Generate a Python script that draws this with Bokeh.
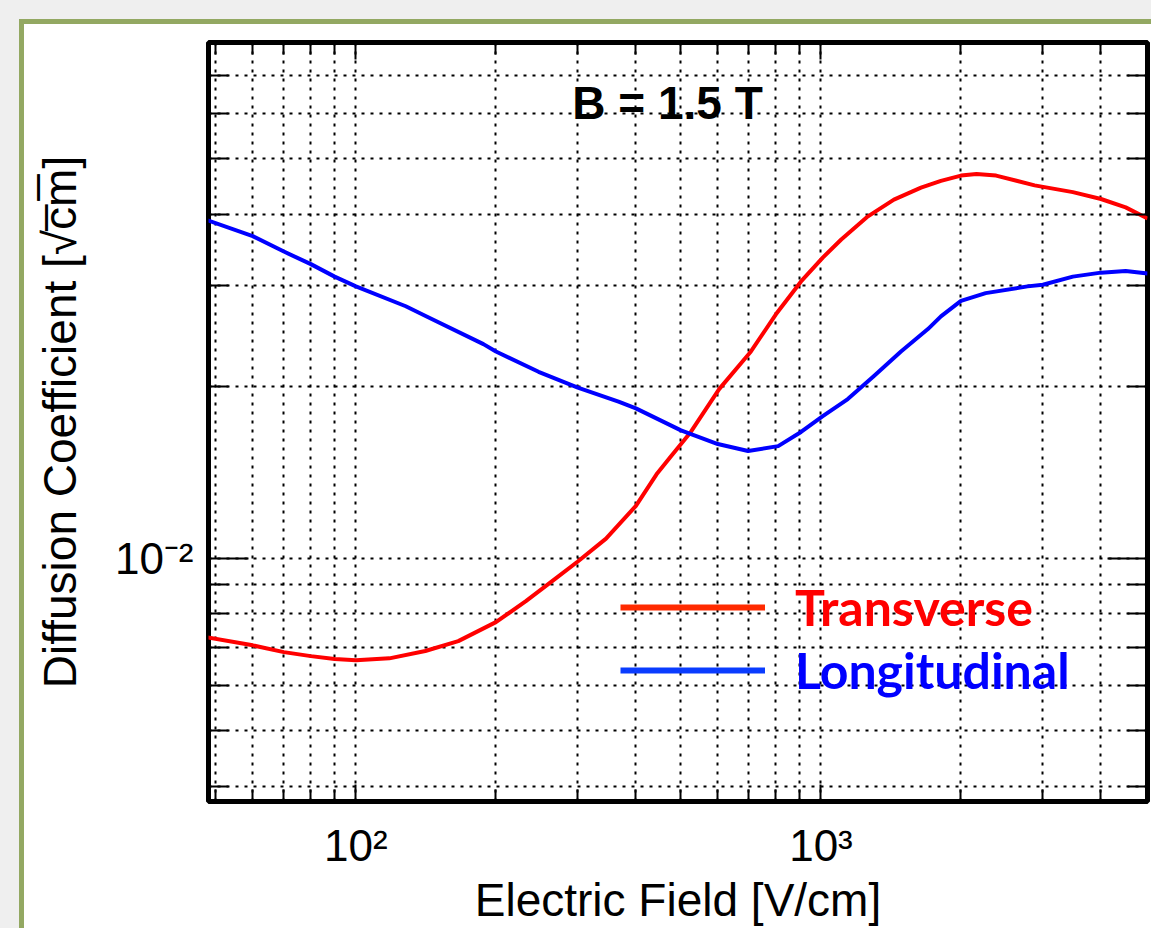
from bokeh.plotting import figure
from bokeh.models import (LogAxis, FixedTicker, Label, Legend, LegendItem,
                          CustomJSTickFormatter)
from bokeh.layouts import column
from bokeh.embed import file_html
from bokeh.resources import INLINE

# ---- data ----
field_trans = [48, 60, 70, 80, 90, 100, 118, 141, 166, 200, 232, 269, 300, 345,
               400, 443, 475, 525, 604, 707, 800, 906, 1009, 1104, 1262, 1435,
               1641, 1811, 2000, 2160, 2380, 2880, 3480, 4000, 4520, 5040]
diff_trans = [0.00728, 0.00705, 0.00686, 0.00675, 0.00667, 0.00664, 0.00669,
              0.00689, 0.00717, 0.00774, 0.00842, 0.00923, 0.00988, 0.01083,
              0.01236, 0.01403, 0.01506, 0.01664, 0.01977, 0.02301, 0.02672,
              0.03050, 0.03357, 0.03608, 0.03964, 0.04240, 0.04449, 0.04571,
              0.0467, 0.0470, 0.0467, 0.0449, 0.0437, 0.0425, 0.0411, 0.0393]

field_long = [48, 60, 70, 80, 90, 100, 128, 143, 188, 200, 247, 300, 367, 400,
              500, 600, 697, 809, 906, 1009, 1142, 1300, 1486, 1698, 1811, 2000,
              2260, 2780, 3000, 3480, 4000, 4520, 5040]
diff_long = [0.0390, 0.0366, 0.0344, 0.0327, 0.0311, 0.0299, 0.0276, 0.0264,
             0.0237, 0.0230, 0.0212, 0.0199, 0.0188, 0.0183, 0.01675, 0.01585,
             0.01541, 0.01572, 0.01664, 0.01774, 0.0190, 0.02084, 0.0230,
             0.02518, 0.0265, 0.0282, 0.0291, 0.0299, 0.0301, 0.0311, 0.0316,
             0.0318, 0.0315]

x_major = [100, 1000]
x_major_labels = ["10\u00b2", "10\u00b3"]
x_minor = [50, 60, 70, 80, 90, 200, 300, 400, 500, 600, 700, 800, 900,
           2000, 3000, 4000]
y_major = [0.01]
y_major_labels = ["10\u207b\u00b2"]
y_minor = [0.004, 0.005, 0.006, 0.007, 0.008, 0.009,
           0.02, 0.03, 0.04, 0.05, 0.06, 0.07]

title_text = "B = 1.5 T"
x_title = "Electric Field [V/cm]"
y_title = "Diffusion Coefficient [\u221ac\u0305m\u0305]"
label_trans = "Transverse"
label_long = "Longitudinal"

FONT = "Liberation Sans"

p = figure(width=1127, height=904, x_axis_type="log", y_axis_type="log",
           x_range=(48.2, 5036), y_range=(0.00376, 0.0798),
           output_backend="svg", toolbar_location=None,
           min_border_left=184, min_border_right=4,
           min_border_top=18, min_border_bottom=124)
p.background_fill_color = "white"
p.border_fill_color = "white"
p.outline_line_color = "black"
p.outline_line_width = 5

blank = CustomJSTickFormatter(code="return ''")


def style_axis(ax, major, minor, tin_major, tin_minor):
    ax.ticker = FixedTicker(ticks=major, minor_ticks=minor)
    ax.axis_line_color = None
    ax.major_tick_in = tin_major
    ax.major_tick_out = 0
    ax.minor_tick_in = tin_minor
    ax.minor_tick_out = 0
    ax.major_tick_line_color = "black"
    ax.minor_tick_line_color = "black"
    ax.major_tick_line_width = 2
    ax.minor_tick_line_width = 2
    ax.major_label_text_font = FONT
    ax.major_label_text_color = "black"
    ax.axis_label_text_font = FONT
    ax.axis_label_text_font_style = "normal"
    ax.axis_label_text_color = "black"


xb = p.xaxis[0]
style_axis(xb, x_major, x_minor, 17, 12)
xb.major_label_overrides = dict(zip(x_major, x_major_labels))
xb.major_label_text_font_size = "44px"
xb.major_label_standoff = 19
xb.axis_label = x_title
xb.axis_label_text_font_size = "46px"
xb.axis_label_standoff = 1

yl = p.yaxis[0]
style_axis(yl, y_major, y_minor, 40, 20)
yl.major_label_overrides = dict(zip(y_major, y_major_labels))
yl.major_label_text_font_size = "44px"
yl.major_label_standoff = 15
yl.axis_label = y_title
yl.axis_label_text_font_size = "46px"
yl.axis_label_standoff = 26

xt = LogAxis()
style_axis(xt, x_major, x_minor, 17, 12)
xt.formatter = blank
xt.major_label_text_font_size = "1px"
xt.major_label_standoff = 0
p.add_layout(xt, "above")

yr = LogAxis()
style_axis(yr, y_major, y_minor, 40, 20)
yr.formatter = blank
yr.major_label_text_font_size = "1px"
yr.major_label_standoff = 0
p.add_layout(yr, "right")

for g in (p.xgrid[0], p.ygrid[0]):
    g.grid_line_color = "black"
    g.grid_line_width = 2
    g.grid_line_dash = "3 6"
    g.grid_line_alpha = 1.0
p.xgrid[0].ticker = FixedTicker(ticks=x_major + x_minor)
p.ygrid[0].ticker = FixedTicker(ticks=y_major + y_minor)

p.line(field_trans, diff_trans, line_color="#ff0000", line_width=4,
       line_join="round")
p.line(field_long, diff_long, line_color="#0000ff", line_width=4,
       line_join="round")

# hidden renderers that only provide the legend swatches
r_key_t = p.line(field_trans, diff_trans, line_color="#ff2a00", line_width=6,
                 visible=False)
r_key_l = p.line(field_long, diff_long, line_color="#0a3cff", line_width=6,
                 visible=False)


def make_legend(label, renderer, color, loc):
    lg = Legend(items=[LegendItem(label=label, renderers=[renderer])],
                location=loc, orientation="vertical",
                glyph_width=145, glyph_height=20, label_standoff=30,
                padding=0, margin=0, spacing=0,
                border_line_color=None, background_fill_alpha=0,
                inactive_fill_alpha=0,
                label_text_font="Lato", label_text_font_style="bold",
                label_text_font_size="50px", label_text_color=color)
    p.add_layout(lg, "center")


make_legend(label_trans, r_key_t, "#ff0000", (412, 164))
make_legend(label_long, r_key_l, "#0000ff", (412, 101))

p.add_layout(Label(x=459, y=699, x_units="screen", y_units="screen",
                   text=title_text, text_align="center",
                   text_baseline="alphabetic", text_font=FONT,
                   text_font_style="bold", text_font_size="46px",
                   text_color="black"))

inner = column(p, styles={"border-left": "5px solid #93a862",
                          "border-top": "5px solid #93a862",
                          "background-color": "white"})
outer = column(inner, styles={"background-color": "#efefef",
                              "padding-left": "19px", "padding-top": "19px"})

open("out.html", "w").write(file_html(outer, INLINE))
